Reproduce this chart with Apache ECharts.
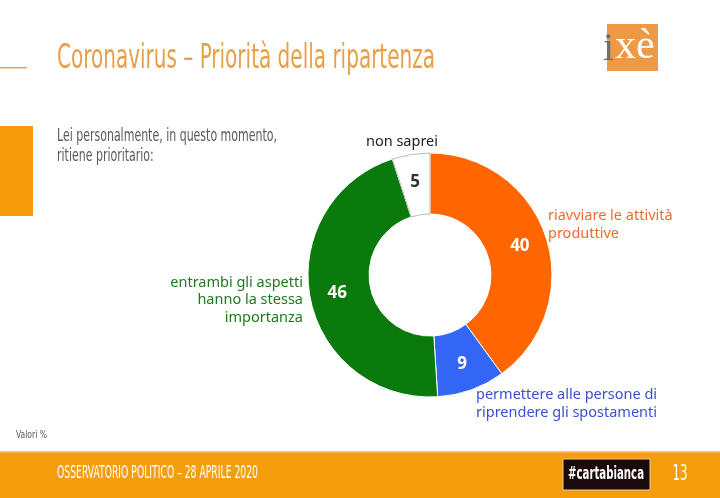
<!DOCTYPE html>
<html><head><meta charset="utf-8">
<script src="https://cdn.jsdelivr.net/npm/echarts@6/dist/echarts.min.js"></script>
<style>html,body{margin:0;padding:0;background:#fff}#c{width:720px;height:498px}</style>
</head><body><div id="c"></div>
<script>
const categories = ['riavviare le attività\nproduttive', 'permettere alle persone di\nriprendere gli spostamenti', 'entrambi gli aspetti\nhanno la stessa\nimportanza', 'non saprei'];
const values = [40, 9, 46, 5];
const sliceColors = ['#FF6600', '#3366F5', '#0A7A0C', '#FFFFFF'];
const labelColors = ['#EE6A2E', '#3A50D0', '#1F7A1F', '#222222'];
const valueLabelColors = ['#FFFFFF', '#FFFFFF', '#FFFFFF', '#333333'];
const titleText = 'Coronavirus – Priorità della ripartenza';
const questionLines = ['Lei personalmente, in questo momento,', 'ritiene prioritario:'];
const footerText = 'OSSERVATORIO POLITICO – 28 APRILE 2020';
const pageNum = '13';
const noteText = 'Valori %';

const COND = '"Liberation Sans Narrow","DejaVu Sans Condensed",sans-serif';
const cv = document.createElement('canvas').getContext('2d');
function fitScale(text, font, target) {
  cv.font = font;
  const w = cv.measureText(text).width;
  return target / w;
}

const chart = echarts.init(document.getElementById('c'), null, {renderer: 'canvas'});

const titleFont = '34px ' + COND;
const qFont = '17px ' + COND;
const fFont = '17px ' + COND;
const labFont = '14.5px "Noto Sans",sans-serif';

const outerLabelPos = [
  {x: 548, y: 225, align: 'left'},
  {x: 476, y: 404, align: 'left'},
  {x: 303, y: 300, align: 'right'},
  {x: 402, y: 142, align: 'center'}
];

const graphics = [
  {type: 'rect', shape: {x: 0, y: 67, width: 27, height: 1.5}, style: {fill: '#E9A24E'}},
  {type: 'text', x: 57, y: 59, scaleX: fitScale(titleText, titleFont, 378), style: {text: titleText, font: titleFont, fill: '#E8A048', textVerticalAlign: 'middle'}},
  {type: 'rect', shape: {x: 607, y: 24, width: 51, height: 47}, style: {fill: '#EE9A45'}},
  {type: 'text', x: 603, y: 49, style: {text: 'i', font: '40px "Liberation Serif",serif', fill: '#6E6E78', textVerticalAlign: 'middle'}},
  {type: 'text', x: 615, y: 47, style: {text: 'xè', font: '42px "Liberation Serif",serif', fill: '#FFFFFF', textVerticalAlign: 'middle'}},
  {type: 'rect', shape: {x: 0, y: 126, width: 33, height: 90}, style: {fill: '#F59B0C'}},
  {type: 'text', x: 57, y: 137, scaleX: fitScale(questionLines[0], qFont, 220), style: {text: questionLines[0], font: qFont, fill: '#5A5A5A', textVerticalAlign: 'middle'}},
  {type: 'text', x: 57, y: 157, scaleX: fitScale(questionLines[0], qFont, 220), style: {text: questionLines[1], font: qFont, fill: '#5A5A5A', textVerticalAlign: 'middle'}},
  {type: 'text', x: 16, y: 435, scaleX: fitScale(noteText, '11px ' + COND, 31), style: {text: noteText, font: '11px ' + COND, fill: '#555', textVerticalAlign: 'middle'}},
  {type: 'rect', shape: {x: 0, y: 452, width: 720, height: 46}, style: {fill: '#F59E0B'}},
  {type: 'rect', shape: {x: 0, y: 451, width: 720, height: 1.5}, style: {fill: '#F8C870'}},
  {type: 'text', x: 57, y: 474, scaleX: fitScale(footerText, fFont, 201), style: {text: footerText, font: fFont, fill: '#FFFFFF', textVerticalAlign: 'middle'}},
  {type: 'rect', shape: {x: 563, y: 459, width: 87, height: 31}, style: {fill: '#1A0A0C', stroke: '#E9C9A0', lineWidth: 1}},
  {type: 'text', x: 606, y: 474, scaleX: fitScale('#cartabianca', 'bold 18px ' + COND, 76), style: {text: '#cartabianca', font: 'bold 18px ' + COND, fill: '#FFFFFF', textAlign: 'center', textVerticalAlign: 'middle'}},
  {type: 'text', x: 680, y: 474, scaleX: fitScale(pageNum, '22px ' + COND, 15), style: {text: pageNum, font: '22px ' + COND, fill: '#FFFFFF', textAlign: 'center', textVerticalAlign: 'middle'}}
];

categories.forEach((c, i) => {
  const p = outerLabelPos[i];
  graphics.push({type: 'text', x: p.x, y: p.y, style: {text: c, font: labFont, fill: labelColors[i], textAlign: p.align, textVerticalAlign: 'middle', lineHeight: 17.5}});
});

chart.setOption({
  animation: false,
  graphic: graphics,
  series: [{
    type: 'pie',
    center: [430, 275],
    radius: [61, 122],
    startAngle: 90,
    clockwise: true,
    label: {show: true, position: 'inside', formatter: '{c}', fontFamily: '"Noto Sans",sans-serif', fontSize: 17, fontWeight: 'bold'},
    labelLine: {show: false},
    emphasis: {disabled: true},
    data: values.map((v, i) => ({
      value: v, name: categories[i],
      itemStyle: {color: sliceColors[i], borderColor: i === 3 ? '#BBBBBB' : '#FFFFFF', borderWidth: 1},
      label: {color: valueLabelColors[i]}
    }))
  }]
});
</script></body></html>
